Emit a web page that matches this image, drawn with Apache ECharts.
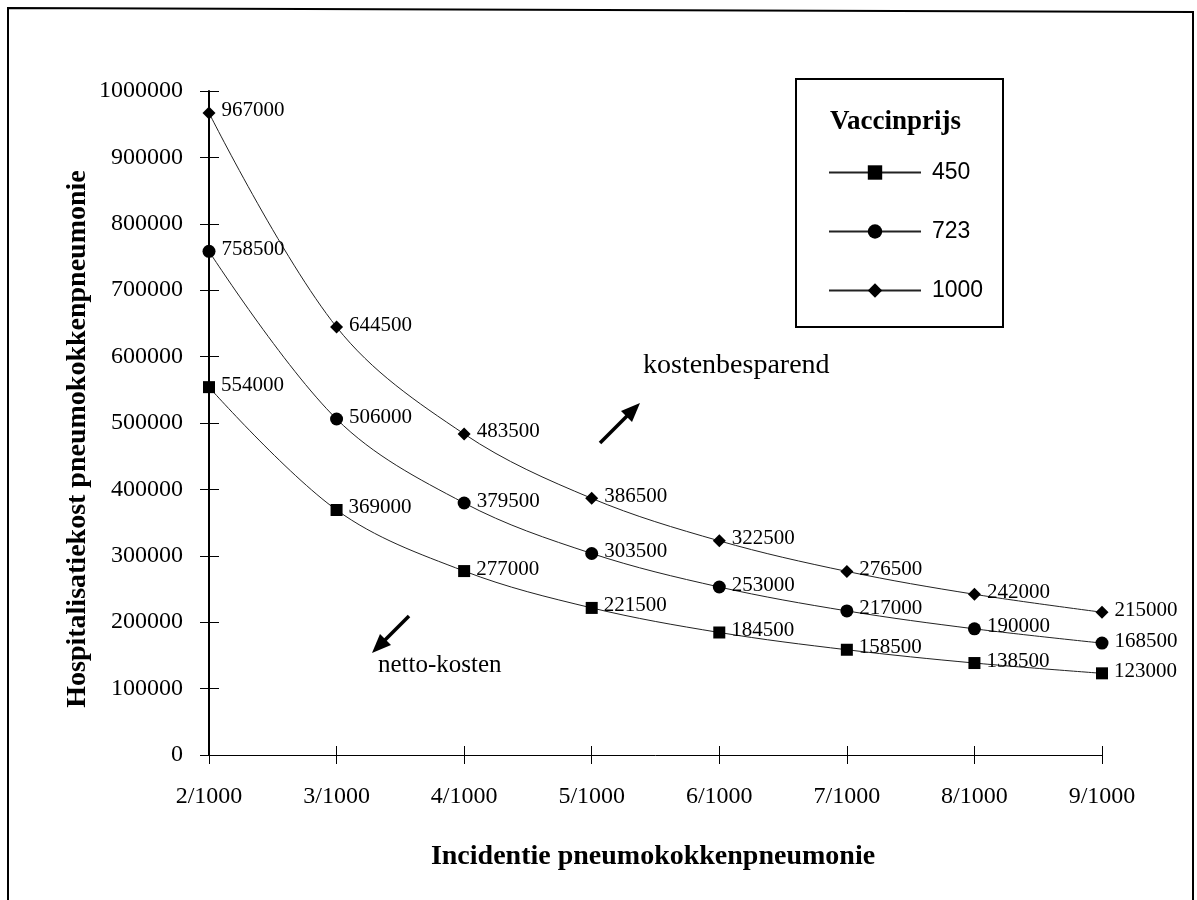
<!DOCTYPE html>
<html>
<head>
<meta charset="utf-8">
<script src="https://cdn.jsdelivr.net/npm/echarts@6/dist/echarts.min.js"></script>
<style>
html,body{margin:0;padding:0;background:#fff;}
#chart{width:1197px;height:900px;}
</style>
</head>
<body>
<div id="chart"></div>
<script>
const categories = ['2/1000','3/1000','4/1000','5/1000','6/1000','7/1000','8/1000','9/1000'];
const seriesNames = ['450','723','1000'];
const price450 = [554000,369000,277000,221500,184500,158500,138500,123000];
const price723 = [758500,506000,379500,303500,253000,217000,190000,168500];
const price1000 = [967000,644500,483500,386500,322500,276500,242000,215000];
const yMin = 0, yMax = 1000000, yInterval = 100000;

const SERIF = '"Liberation Serif","Times New Roman",serif';
const SANS = '"Liberation Sans",Arial,sans-serif';

function mkSeries(name, data, symbol, size) {
  return {
    name: name, type: 'line', data: data, smooth: 0.35,
    xAxisIndex: 0, yAxisIndex: 0,
    symbol: symbol, symbolSize: size,
    lineStyle: {color: '#222', width: 1},
    itemStyle: {color: '#000'},
    label: {
      show: true, position: 'right', distance: 6, offset: [0, -2],
      fontFamily: SERIF, fontSize: 21, color: '#000'
    },
    emphasis: {disabled: true}
  };
}

const chart = echarts.init(document.getElementById('chart'), null, {renderer: 'canvas'});
chart.setOption({
  animation: false,
  backgroundColor: '#fff',
  grid: {left: 209, right: 95, top: 91, bottom: 145, containLabel: false},
  xAxis: [{
    type: 'category', data: categories, boundaryGap: false, position: 'bottom',
    axisLine: {lineStyle: {color: '#000', width: 1}},
    axisTick: {show: true, length: 9, lineStyle: {color: '#000'}},
    axisLabel: {fontFamily: SERIF, fontSize: 24, color: '#000', margin: 30},
    splitLine: {show: false}
  }, {
    type: 'category', data: categories, boundaryGap: false, position: 'bottom',
    axisLine: {show: false},
    axisTick: {show: true, inside: true, length: 9, lineStyle: {color: '#000'}},
    axisLabel: {show: false}, splitLine: {show: false}
  }],
  yAxis: [{
    type: 'value', min: yMin, max: yMax, interval: yInterval, position: 'left',
    axisLine: {show: true, lineStyle: {color: '#000', width: 2}},
    axisTick: {show: true, length: 9, lineStyle: {color: '#000'}},
    axisLabel: {fontFamily: SERIF, fontSize: 24, color: '#000', margin: 26, formatter: function (v) { return String(v); }},
    splitLine: {show: false}
  }, {
    type: 'value', min: yMin, max: yMax, interval: yInterval, position: 'left',
    axisLine: {show: false},
    axisTick: {show: true, inside: true, length: 10, lineStyle: {color: '#000'}},
    axisLabel: {show: false}, splitLine: {show: false}
  }],
  legend: {
    data: seriesNames, orient: 'vertical', left: 823, top: 156,
    itemWidth: 92, itemHeight: 18, itemGap: 36, selectedMode: false,
    textStyle: {fontFamily: SANS, fontSize: 23, color: '#000', padding: [0,0,0,6]}
  },
  graphic: [
    {type: 'polyline', shape: {points: [[8,900],[8,8],[1193,12],[1193,900]]}, style: {stroke: '#000', lineWidth: 2, fill: null}},
    {type: 'rect', shape: {x: 796, y: 79, width: 207, height: 248}, style: {stroke: '#000', lineWidth: 2, fill: null}, z: 1},
    {type: 'text', x: 830, y: 122, style: {text: 'Vaccinprijs', font: 'bold 27px ' + SERIF, fill: '#000', verticalAlign: 'middle'}},
    {type: 'text', x: 78, y: 439, rotation: Math.PI/2, style: {text: 'Hospitalisatiekost pneumokokkenpneumonie', font: 'bold 28px ' + SERIF, fill: '#000', align: 'center', verticalAlign: 'middle'}},
    {type: 'text', x: 653, y: 857, style: {text: 'Incidentie pneumokokkenpneumonie', font: 'bold 28px ' + SERIF, fill: '#000', align: 'center', verticalAlign: 'middle'}},
    {type: 'text', x: 643, y: 366, style: {text: 'kostenbesparend', font: '28px ' + SERIF, fill: '#000', verticalAlign: 'middle'}},
    {type: 'text', x: 378, y: 665, style: {text: 'netto-kosten', font: '25px ' + SERIF, fill: '#000', verticalAlign: 'middle'}},
    {type: 'line', shape: {x1: 600, y1: 443, x2: 630, y2: 413}, style: {stroke: '#000', lineWidth: 3.5}},
    {type: 'polygon', shape: {points: [[640,403],[621,411],[632,422]]}, style: {fill: '#000'}},
    {type: 'line', shape: {x1: 409, y1: 616, x2: 382, y2: 643}, style: {stroke: '#000', lineWidth: 3.5}},
    {type: 'polygon', shape: {points: [[372,653],[380,634],[391,645]]}, style: {fill: '#000'}}
  ],
  series: [
    mkSeries('450', price450, 'rect', 12),
    mkSeries('723', price723, 'circle', 13),
    mkSeries('1000', price1000, 'diamond', 13)
  ]
});
</script>
</body>
</html>
